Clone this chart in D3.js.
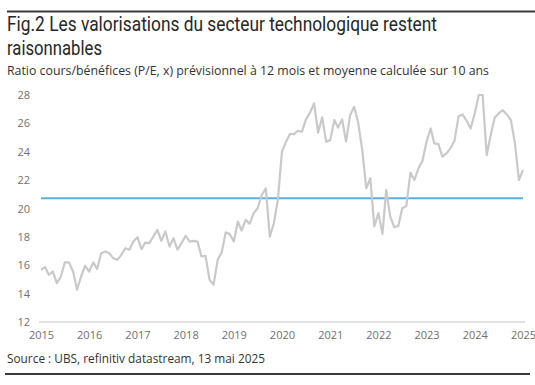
<!DOCTYPE html>
<html><head><meta charset="utf-8">
<script src="https://cdn.jsdelivr.net/npm/d3@7"></script>
<style>
html,body{margin:0;padding:0;background:#fff;}
svg{display:block;}
</style></head>
<body>
<script>
// ---- data ----
const titleLines = ["Fig.2 Les valorisations du secteur technologique restent", "raisonnables"];
const subtitle = "Ratio cours/bénéfices (P/E, x) prévisionnel à 12 mois et moyenne calculée sur 10 ans";
const source = "Source : UBS, refinitiv datastream, 13 mai 2025";
const startMonth = "2015-01";
const peValues = [
 15.68, 15.87, 15.33, 15.56, 14.74, 15.21, 16.20, 16.20, 15.56, 14.27,
 15.21, 15.96, 15.56, 16.20, 15.73, 16.85, 16.97, 16.85, 16.50, 16.38,
 16.73, 17.20, 17.09, 17.67, 17.98, 17.13, 17.60, 17.56, 18.02, 18.49,
 17.72, 18.38, 17.32, 17.91, 17.09, 17.56, 18.07, 17.67, 17.72, 17.67,
 16.62, 16.66, 14.98, 14.63, 16.38, 16.90, 18.31, 18.21, 17.67, 19.08,
 18.45, 19.20, 18.92, 19.67, 20.02, 20.95, 21.42,
 18.02, 18.96, 20.60, 24.00, 24.71, 25.24, 25.24, 25.48, 25.41, 26.28,
 26.77, 27.40, 25.34, 26.42, 24.71, 24.82, 26.23, 25.71, 26.28, 24.71,
 26.58, 27.17, 26.04, 24.12, 21.42, 22.13, 18.73, 19.67, 18.21, 21.31,
 19.43, 18.68, 18.77, 20.02, 20.18, 22.53, 22.01, 22.83, 23.37, 24.71,
 25.64, 24.59, 24.54, 23.65, 23.88, 24.24, 24.78, 26.51, 26.63, 26.18,
 25.64, 26.70, 28.00, 28.00, 23.77, 25.17, 26.42, 26.70, 26.93, 26.63,
 26.23, 24.59, 22.01, 22.71
];
const averagePE = 20.72;
const yTicks = [12, 14, 16, 18, 20, 22, 24, 26, 28];
const xTickYears = [2015, 2016, 2017, 2018, 2019, 2020, 2021, 2022, 2023, 2024, 2025];

// ---- build ----
const W = 535, H = 385;
const parse = d3.timeParse("%Y-%m");
const t0 = parse(startMonth);
const series = peValues.map((v, i) => ({date: d3.timeMonth.offset(t0, i), value: v}));

const svg = d3.select("body").append("svg").attr("width", W).attr("height", H);
const FONT = "'Open Sans', 'Noto Sans', sans-serif";
const TFONT = "Roboto, 'Liberation Sans', sans-serif";

// top rule
svg.append("line").attr("x1", 7).attr("x2", 535).attr("y1", 11.5).attr("y2", 11.5)
  .attr("stroke", "#3a3a3a").attr("stroke-width", 2);

// titles
const tl = [{t: titleLines[0], y: 31, len: 430}, {t: titleLines[1], y: 55, len: 95}];
tl.forEach(d => {
  svg.append("text").attr("x", 7).attr("y", d.y).text(d.t)
    .attr("font-family", TFONT).attr("font-size", 20).attr("fill", "#262626")
    .attr("textLength", d.len).attr("lengthAdjust", "spacingAndGlyphs");
});
svg.append("text").attr("x", 7).attr("y", 75).text(subtitle)
  .attr("font-family", FONT).attr("font-size", 12).attr("fill", "#333")
  .attr("textLength", 482).attr("lengthAdjust", "spacingAndGlyphs");

// scales
const x = d3.scaleTime()
  .domain([new Date(2015, 0, 1), new Date(2025, 0, 1)])
  .range([41, 523]);
const y = d3.scaleLinear().domain([12, 28]).range([322, 95]);

// y tick labels
const yAxis = d3.axisLeft(y).tickValues(yTicks).tickSize(0).tickPadding(0);
const gy = svg.append("g").attr("transform", "translate(30,0)").call(yAxis);
gy.select(".domain").remove();
gy.selectAll("text").attr("font-family", FONT).attr("font-size", 11).attr("fill", "#707070");

// x axis baseline (at 12) and labels
svg.append("line").attr("x1", 39).attr("x2", 525).attr("y1", y(12)).attr("y2", y(12))
  .attr("stroke", "#e2e2e2").attr("stroke-width", 2);
const xAxis = d3.axisBottom(x).tickValues(xTickYears.map(yr => new Date(yr, 0, 1)))
  .tickFormat(d3.timeFormat("%Y")).tickSize(0).tickPadding(0);
const gx = svg.append("g").attr("transform", `translate(0,${y(12) + 9})`).call(xAxis);
gx.select(".domain").remove();
gx.selectAll("text").attr("font-family", FONT).attr("font-size", 11).attr("fill", "#707070");

// average line
svg.append("line")
  .attr("x1", x(series[0].date)).attr("x2", x(series[series.length - 1].date))
  .attr("y1", y(averagePE)).attr("y2", y(averagePE))
  .attr("stroke", "#5aaee3").attr("stroke-width", 2);

// P/E line
const line = d3.line().x(d => x(d.date)).y(d => y(d.value));
svg.append("path").datum(series).attr("d", line)
  .attr("fill", "none").attr("stroke", "#c9c9c9").attr("stroke-width", 2.2)
  .attr("stroke-linejoin", "round");

// source
svg.append("text").attr("x", 7).attr("y", 363).text(source)
  .attr("font-family", FONT).attr("font-size", 12).attr("fill", "#333")
  .attr("textLength", 258).attr("lengthAdjust", "spacingAndGlyphs");
svg.append("line").attr("x1", 5).attr("x2", 530).attr("y1", 374).attr("y2", 374)
  .attr("stroke", "#3a3a3a").attr("stroke-width", 2);
</script>
</body></html>
